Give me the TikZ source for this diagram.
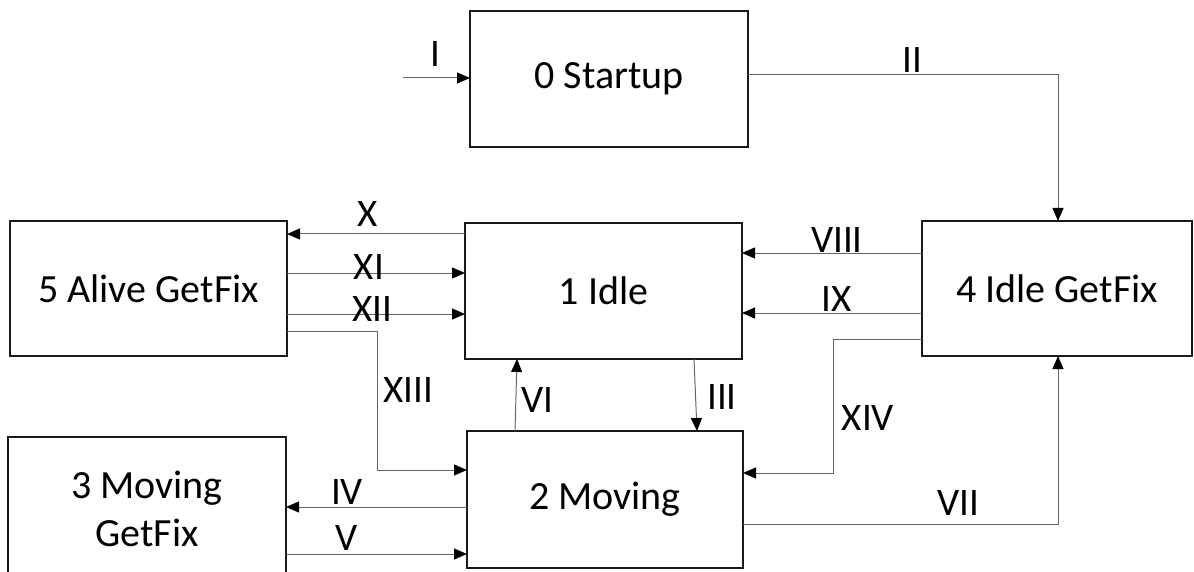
\documentclass[tikz,border=0pt]{standalone}
\usepackage{fontspec}
\setmainfont{Carlito}
\usetikzlibrary{arrows.meta}
\begin{document}
\begin{tikzpicture}[x=1pt,y=-1pt,
  state/.style={draw=black!90,line width=1.4pt,rectangle,inner sep=0pt,outer sep=0pt,
    align=center,font=\fontsize{40}{48}\selectfont},
  conn/.style={draw=black!60,line width=1pt,-{Triangle[length=13pt,width=11pt,color=black]}},
  lab/.style={anchor=base,inner sep=0pt,font=\fontsize{39}{47}\selectfont}]
\useasboundingbox (0,0) rectangle (1194,572);
\node[state,minimum width=278pt,minimum height=136pt] (s0) at (609,79) {0 Startup};
\node[state,minimum width=277pt,minimum height=135pt] (s5) at (148.5,288.5) {5 Alive GetFix};
\node[state,minimum width=277pt,minimum height=136pt] (s1) at (603.5,291) {1 Idle};
\node[state,minimum width=270pt,minimum height=135pt] (s4) at (1057,288.5) {4 Idle GetFix};
\node[state,minimum width=276pt,minimum height=137pt] (s2) at (605,499.5) {2 Moving};
\node[state,minimum width=278pt,minimum height=143pt] (s3) at (147,508.5) {3 Moving\\GetFix};
\coordinate (start) at (403,78);
% I
\draw[conn] (start) -- (s0.west |- start) node[lab] at (435,67) {I};
% II
\draw[conn] (s0.east |- 0,75) -- (1058,75) -- (1058,0 |- s4.north) node[lab] at (912,73) {II};
% X
\draw[conn] (s1.west |- 0,234) -- (s5.east |- 0,234) node[lab] at (368,227) {X};
% XI
\draw[conn] (s5.east |- 0,273) -- (s1.west |- 0,273) node[lab] at (369,279) {XI};
% XII
\draw[conn] (s5.east |- 0,314) -- (s1.west |- 0,314) node[lab] at (372,321) {XII};
% XIII
\draw[conn] (s5.east |- 0,331) -- (377,331) -- (377,470) -- (s2.west |- 0,470) node[lab] at (408,402) {XIII};
% IV
\draw[conn] (s2.west |- 0,507) -- (s3.east |- 0,507) node[lab] at (347,504) {IV};
% V
\draw[conn] (s3.east |- 0,554) -- (s2.west |- 0,554) node[lab] at (347,550) {V};
% VI
\draw[conn] (515,0 |- s2.north) -- (517,0 |- s1.south) node[lab] at (537,412) {VI};
% III
\draw[conn] (694,0 |- s1.south) -- (697,0 |- s2.north) node[lab] at (722,409) {III};
% VIII
\draw[conn] (s4.west |- 0,253) -- (s1.east |- 0,253) node[lab] at (837,252) {VIII};
% IX
\draw[conn] (s4.west |- 0,313) -- (s1.east |- 0,313) node[lab] at (837,311) {IX};
% XIV
\draw[conn] (s4.west |- 0,339) -- (833,339) -- (833,473) -- (s2.east |- 0,473) node[lab] at (868,430) {XIV};
% VII
\draw[conn] (s2.east |- 0,524) -- (1058,524) -- (1058,0 |- s4.south) node[lab] at (958,515) {VII};
\end{tikzpicture}
\end{document}
